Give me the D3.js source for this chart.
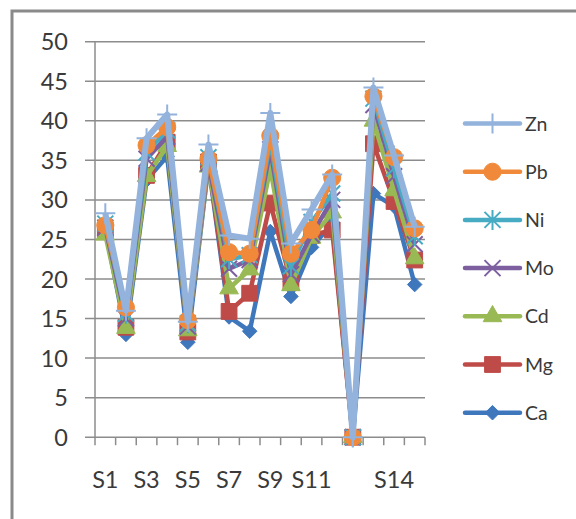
<!DOCTYPE html>
<html>
<head>
<meta charset="utf-8">
<script src="https://cdn.jsdelivr.net/npm/d3@7"></script>
<style>
  body { margin: 0; background: #fff; }
  svg { display: block; }
  text { font-family: Lato, "Open Sans", sans-serif; fill: #3a3a3a; }
</style>
</head>
<body>
<script>
// categories along the x axis (13th sample has no label in the original)
var categories = ["S1","S2","S3","S4","S5","S6","S7","S8","S9","S10","S11","S12","","S13","S14","S15"];
var yTicks = [0, 5, 10, 15, 20, 25, 30, 35, 40, 45, 50];

// series values
var ca = [26.3, 13.0, 32.5, 35.5, 12.0, 34.5, 15.2, 13.4, 26.0, 17.8, 24.0, 27.0, 0, 30.8, 29.2, 19.3];
var mg = [26.1, 13.9, 33.1, 37.3, 13.3, 34.8, 15.9, 18.2, 29.6, 19.6, 25.5, 26.2, 0, 37.1, 29.8, 22.4];
var cd = [25.6, 13.8, 33.0, 36.8, 13.5, 34.2, 18.8, 21.2, 34.0, 19.2, 25.2, 28.4, 0, 40.0, 31.2, 22.6];
var mo = [26.5, 15.0, 35.2, 38.0, 14.0, 34.6, 21.3, 22.4, 36.4, 20.6, 25.6, 30.0, 0, 42.0, 33.0, 24.4];
var ni = [27.0, 15.6, 36.0, 38.8, 14.4, 35.4, 22.5, 23.0, 37.4, 21.6, 27.2, 30.8, 0, 42.8, 34.0, 25.4];
var pb = [26.8, 16.4, 36.9, 39.2, 14.8, 35.2, 23.4, 23.2, 38.1, 23.2, 26.2, 32.8, 0, 43.1, 35.4, 26.4];
var zn = [28.3, 16.0, 37.8, 40.8, 14.6, 37.0, 25.5, 25.1, 41.0, 24.5, 28.8, 33.2, 0, 44.2, 35.6, 26.6];

var seriesNames = ["Ca", "Mg", "Cd", "Mo", "Ni", "Pb", "Zn"];
var seriesValues = [ca, mg, cd, mo, ni, pb, zn];
var seriesColors = ["#3f77bd", "#be4b48", "#98b954", "#7d5fa0", "#47abc4", "#f08a3a", "#93b2dc"];
var seriesMarkers = ["diamond", "square", "triangle", "x", "star", "circle", "plus"];

var W = 576, H = 519;
var svg = d3.select("body").append("svg").attr("width", W).attr("height", H);

// chart frame
svg.append("rect").attr("x", 12).attr("y", 11).attr("width", 620).attr("height", 560)
  .attr("fill", "none").attr("stroke", "#8a8a8a").attr("stroke-width", 3);

var x = d3.scaleBand().domain(categories).range([95, 425]).padding(0);
var y = d3.scaleLinear().domain([0, 50]).range([437.2, 41.7]);
function cx(i) { return x(categories[i]) + x.bandwidth() / 2; }

// gridlines (they run into the left tick marks)
svg.append("g").selectAll("line").data(yTicks).enter().append("line")
  .attr("x1", 85).attr("x2", 425)
  .attr("y1", function(d) { return y(d); }).attr("y2", function(d) { return y(d); })
  .attr("stroke", "#8c8c8c").attr("stroke-width", 1.5);

// y labels
svg.append("g").selectAll("text").data(yTicks).enter().append("text")
  .attr("x", 68).attr("y", function(d) { return y(d) + 8.5; })
  .attr("text-anchor", "end").attr("font-size", 23.5)
  .text(function(d) { return d; });

// y axis line
svg.append("line").attr("x1", 95).attr("x2", 95).attr("y1", y(50)).attr("y2", y(0) + 0.5)
  .attr("stroke", "#8c8c8c").attr("stroke-width", 1.5);

// x axis ticks between categories
var edges = categories.map(function(c) { return x(c); }).concat([425]);
svg.append("g").selectAll("line").data(edges).enter().append("line")
  .attr("x1", function(d) { return d; }).attr("x2", function(d) { return d; })
  .attr("y1", y(0)).attr("y2", y(0) + 8)
  .attr("stroke", "#8c8c8c").attr("stroke-width", 1.5);

// x labels, every other category like the original
var xAxis = d3.axisBottom(x)
  .tickValues(categories.filter(function(d, i) { return i % 2 === 0; }))
  .tickSize(0).tickPadding(0);
var xg = svg.append("g").attr("transform", "translate(0,480)").call(xAxis);
xg.select(".domain").remove();
xg.selectAll("text").attr("font-size", 23.5).attr("dy", "0.36em").attr("y", 0)
  .attr("font-family", "Lato, 'Open Sans', sans-serif").attr("fill", "#3a3a3a");

function markerPath(type) {
  if (type === "circle") return d3.symbol(d3.symbolCircle, 230)();
  if (type === "square") return d3.symbol(d3.symbolSquare, 250)();
  if (type === "triangle") return d3.symbol(d3.symbolTriangle, 150)();
  if (type === "diamond") return d3.symbol(d3.symbolDiamond2, 135)();
  if (type === "plus") return "M-10,0L10,0M0,-10L0,10";
  if (type === "x") return "M-8,-8L8,8M-8,8L8,-8";
  return "M-8,-8L8,8M-8,8L8,-8M0,-10L0,10";
}
function drawMarker(g, type, color, px, py) {
  var p = g.append("path").attr("d", markerPath(type))
    .attr("transform", "translate(" + px + "," + py + ")");
  if (type === "plus" || type === "x" || type === "star") {
    p.attr("fill", "none").attr("stroke", color).attr("stroke-width", 2);
  } else {
    p.attr("fill", color).attr("stroke", color).attr("stroke-width", 1);
  }
}

var line = d3.line().x(function(d, i) { return cx(i); }).y(function(d) { return y(d); });

seriesValues.forEach(function(vals, s) {
  var g = svg.append("g");
  g.append("path").datum(vals).attr("d", line)
    .attr("fill", "none").attr("stroke", seriesColors[s])
    .attr("stroke-width", seriesNames[s] === "Zn" ? 6 : 4.5)
    .attr("stroke-linejoin", "round");
  vals.forEach(function(v, i) {
    drawMarker(g, seriesMarkers[s], seriesColors[s], cx(i), y(v));
  });
});

// legend, Zn on top down to Ca
var legendOrder = seriesNames.slice().reverse();
legendOrder.forEach(function(name, k) {
  var s = seriesNames.indexOf(name);
  var ly = 123.5 + k * 48.2;
  var g = svg.append("g");
  g.append("line").attr("x1", 465).attr("x2", 520).attr("y1", ly).attr("y2", ly)
    .attr("stroke", seriesColors[s]).attr("stroke-width", 4.5).attr("stroke-linecap", "round");
  drawMarker(g, seriesMarkers[s], seriesColors[s], 492.5, ly);
  g.append("text").attr("x", 525).attr("y", ly + 7).attr("font-size", 19.5).text(name);
});
</script>
</body>
</html>
